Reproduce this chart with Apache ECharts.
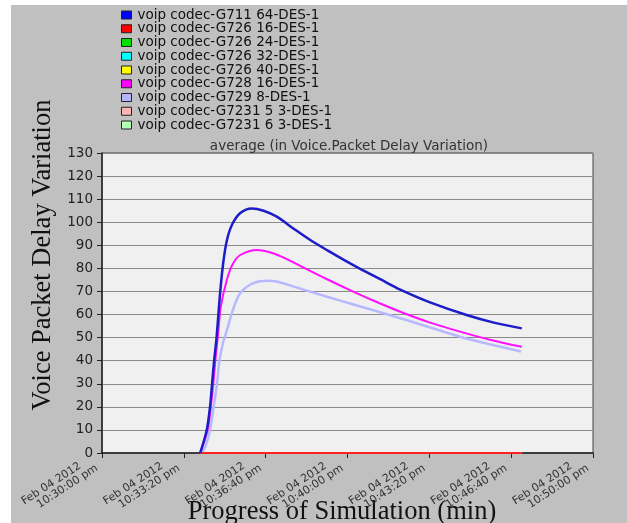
<!DOCTYPE html>
<html>
<head>
<meta charset="utf-8">
<script src="https://cdn.jsdelivr.net/npm/echarts@6/dist/echarts.min.js"></script>
<style>
  html, body { margin: 0; padding: 0; background: #ffffff; }
  #chart { position: absolute; left: 11px; top: 5px; width: 616px; height: 518px; background: #c0c0c0; }
</style>
</head>
<body>
<div id="chart"></div>
<script>
// time axis in seconds after 10:30:00 pm
const xTickDates = ["Feb 04 2012", "Feb 04 2012", "Feb 04 2012", "Feb 04 2012", "Feb 04 2012", "Feb 04 2012", "Feb 04 2012"];
const xTickTimes = ["10:30:00 pm", "10:33:20 pm", "10:36:40 pm", "10:40:00 pm", "10:43:20 pm", "10:46:40 pm", "10:50:00 pm"];

const seriesNames = [
    "voip codec-G711 64-DES-1",
    "voip codec-G726 16-DES-1",
    "voip codec-G726 24-DES-1",
    "voip codec-G726 32-DES-1",
    "voip codec-G726 40-DES-1",
    "voip codec-G728 16-DES-1",
    "voip codec-G729 8-DES-1",
    "voip codec-G7231 5 3-DES-1",
    "voip codec-G7231 6 3-DES-1"
];

const legendColors = ["#0000ff", "#ff0000", "#00e000", "#00ffff", "#ffff00", "#ff00ff", "#b4b4ff", "#ffb4b4", "#b4ffb4"];

const g711 = [[240, 0], [256, 10], [264, 20], [269, 30], [274, 40], [280, 50], [288, 68], [296, 82], [305, 92], [318, 99],
    [338, 104], [366, 106], [395, 105], [427, 102.4], [470, 97], [509, 92.3], [550, 87.9], [590, 83.8], [631, 79.8],
    [680, 75.3], [729, 70.8], [800, 65.4], [891, 59.8], [960, 56.4], [1026, 54]];

const g728 = [[240, 0], [258, 10], [266, 20], [272, 30], [277, 40], [284, 52], [290, 63], [305, 75], [320, 82], [338, 85.8],
    [379, 88], [410, 87], [440, 85], [469, 82.5], [500, 79.7], [550, 75.3], [606, 70.6], [660, 66.3], [729, 61.2],
    [800, 56.6], [875, 52.6], [948, 49.1], [1026, 46]];

const g729 = [[244, 0], [253, 3], [264, 10], [273, 20], [281, 30], [287, 40], [296, 48], [305, 53], [320, 62], [338, 69.3],
    [370, 73.6], [411, 74.6], [440, 73.7], [467, 72.2], [550, 67.7], [606, 64.8], [729, 58.4], [875, 50.4], [950, 47], [1024, 44]];

// the other codecs stay at zero for the whole run
const zeroLine = [[240, 0], [1026, 0]];

const seriesData = [g711, zeroLine, zeroLine, zeroLine, zeroLine, g728, g729, zeroLine, zeroLine];
const lineColors = ["#1c1cc8", "#ff2020", "#00e000", "#00ffff", "#ffff00", "#ff10ff", "#b8b8ff", "#ffb4b4", "#b4ffb4"];
const lineWidths = [2.5, 2, 1, 1, 1, 2, 2.5, 1, 1];
const lineZ = [9, 8, 2, 2, 2, 7, 6, 2, 2];

const chart = echarts.init(document.getElementById('chart'));

const series = seriesNames.map((name, i) => ({
    name: name,
    type: 'line',
    data: seriesData[i],
    smooth: 0.3,
    showSymbol: false,
    z: lineZ[i],
    itemStyle: { color: legendColors[i] },
    lineStyle: { color: lineColors[i], width: lineWidths[i] },
    animation: false
}));

const labelFont = { fontFamily: 'DejaVu Sans', fontSize: 11, color: '#333333', lineHeight: 11 };

const option = {
    animation: false,
    title: {
        text: 'average (in Voice.Packet Delay Variation)',
        left: 333,
        top: 129,
        textAlign: 'center',
        textStyle: { fontFamily: 'DejaVu Sans', fontSize: 13.5, fontWeight: 'normal', color: '#333333' }
    },
    legend: {
        orient: 'vertical',
        left: 110,
        top: 3,
        padding: 0,
        icon: 'rect',
        itemWidth: 10,
        itemHeight: 8,
        itemGap: -0.25,
        itemStyle: { borderColor: '#222222', borderWidth: 1 },
        textStyle: { fontFamily: 'DejaVu Sans', fontSize: 13.5, color: '#111111', padding: [0, 0, 0, 1] },
        data: seriesNames
    },
    grid: {
        left: 91,
        top: 148,
        width: 491,
        height: 300,
        show: true,
        backgroundColor: '#f0f0f0',
        borderColor: '#444444',
        borderWidth: 1
    },
    xAxis: {
        type: 'value',
        min: 0,
        max: 1200,
        interval: 200,
        axisLine: { lineStyle: { color: '#222222', width: 1.5 } },
        axisTick: { show: true, length: 5, lineStyle: { color: '#222222' } },
        splitLine: { show: false },
        axisLabel: {
            rotate: 33,
            fontFamily: 'DejaVu Sans',
            fontSize: 11,
            lineHeight: 11,
            color: '#333333',
            margin: 4.5,
            padding: [0, 9.5, 0, 0],
            formatter: (v) => {
                const i = Math.round(v / 200);
                return '{d|' + xTickDates[i] + '}\n{t|' + xTickTimes[i] + '}';
            },
            rich: {
                d: Object.assign({ padding: [0, 13, 0, 0] }, labelFont),
                t: Object.assign({}, labelFont)
            }
        }
    },
    yAxis: {
        type: 'value',
        min: 0,
        max: 130,
        interval: 10,
        axisLine: { show: true, lineStyle: { color: '#222222', width: 1.5 } },
        axisTick: { show: true, length: 5, lineStyle: { color: '#222222' } },
        splitLine: { lineStyle: { color: '#8a8a8a', width: 1 } },
        axisLabel: {
            fontFamily: 'DejaVu Sans',
            fontSize: 13.5,
            color: '#222222',
            margin: 9
        }
    },
    graphic: [
        {
            type: 'text',
            x: 32,
            y: 250,
            rotation: Math.PI / 2,
            style: {
                text: 'Voice Packet Delay Variation',
                font: '26.5px "Liberation Serif"',
                fill: '#111111',
                textAlign: 'center',
                textVerticalAlign: 'middle'
            }
        },
        {
            type: 'text',
            x: 331,
            y: 507,
            style: {
                text: 'Progress of Simulation (min)',
                font: '26.5px "Liberation Serif"',
                fill: '#111111',
                textAlign: 'center',
                textVerticalAlign: 'middle'
            }
        }
    ],
    series: series
};

chart.setOption(option);
</script>
</body>
</html>
